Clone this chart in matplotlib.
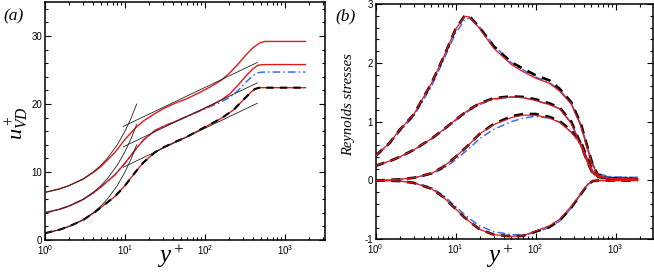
import numpy as np
import matplotlib
matplotlib.use("Agg")
import matplotlib.pyplot as plt
from matplotlib.ticker import FuncFormatter, MultipleLocator, LogLocator, NullFormatter

plt.rcParams['mathtext.fontset'] = 'custom'
plt.rcParams['mathtext.rm'] = 'Liberation Serif'
plt.rcParams['mathtext.it'] = 'Liberation Serif:italic'
plt.rcParams['mathtext.sf'] = 'Liberation Sans'
plt.rcParams['font.family'] = ['Liberation Sans', 'DejaVu Sans']

# ---------------- panel (a) data ----------------
yp_bot = [1, 1.5, 2, 3, 4.2, 5, 7.5, 10, 13.3, 17, 23.7, 30, 42, 60, 86, 120, 160, 226, 301, 365, 420, 480, 1800]
u_bot = [1.0, 1.5, 2.0, 2.95, 4.1, 4.8, 6.4, 8.0, 9.9, 11.4, 12.9, 13.6, 14.4, 15.2, 16.2, 17.1, 17.9, 19.1, 20.6, 21.6, 22.2, 22.4, 22.4]

yp_mid = [1, 1.5, 2, 3, 4.2, 5, 7.5, 10, 13.3, 17, 23.7, 30, 42, 60, 86, 120, 160, 205, 260, 330, 400, 460, 540, 1800]
u_mid = [4.0, 4.5, 5.0, 5.95, 7.1, 7.8, 9.6, 11.3, 13.2, 14.7, 16.1, 16.7, 17.4, 18.2, 19.0, 19.8, 20.6, 21.5, 22.8, 24.2, 25.2, 25.7, 25.8, 25.8]
u_mid_blue = [4.0, 4.5, 5.0, 5.95, 7.1, 7.8, 9.6, 11.3, 13.2, 14.7, 16.1, 16.7, 17.4, 18.2, 19.0, 19.7, 20.3, 21.0, 22.0, 23.3, 24.2, 24.6, 24.7, 24.7]

yp_top = [1, 1.5, 2, 3, 4.2, 5, 7.5, 10, 13.3, 17, 23.7, 30, 42, 60, 86, 120, 160, 205, 260, 330, 400, 487, 560, 1800]
u_top = [7.0, 7.5, 8.0, 8.95, 10.1, 10.8, 12.9, 14.8, 16.4, 17.5, 18.6, 19.3, 20.1, 20.8, 21.7, 22.6, 23.5, 24.6, 25.9, 27.3, 28.3, 29.0, 29.2, 29.2]

# thin reference lines (viscous sublayer and log law)
yp_visc = [1, 1.5, 2, 3, 4, 5, 6, 8, 10, 12, 14]
u_visc_bot = [1, 1.5, 2, 3, 4, 5, 6, 8, 10, 12, 14]
u_visc_mid = [4, 4.5, 5, 6, 7, 8, 9, 11, 13, 15, 17]
u_visc_top = [7, 7.5, 8, 9, 10, 11, 12, 14, 16, 18, 20]
yp_log = [9.5, 450]
u_log_bot = [10.7, 20.1]
u_log_mid = [13.7, 23.1]
u_log_top = [16.7, 26.1]

# ---------------- panel (b) data ----------------
yp_rs = [1, 1.5, 2, 3, 5, 7, 10, 13, 15, 20, 30, 50, 70, 100, 150, 200, 280, 370, 450, 520, 600, 800, 1000, 1900]
uu_red = [0.42, 0.64, 0.86, 1.12, 1.65, 2.08, 2.57, 2.79, 2.78, 2.58, 2.25, 1.97, 1.85, 1.74, 1.65, 1.52, 1.30, 0.92, 0.52, 0.25, 0.10, 0.04, 0.03, 0.02]
uu_blk = [0.42, 0.64, 0.86, 1.12, 1.65, 2.08, 2.57, 2.80, 2.79, 2.60, 2.28, 2.01, 1.90, 1.79, 1.70, 1.56, 1.33, 0.96, 0.55, 0.26, 0.10, 0.04, 0.03, 0.02]
uu_blu = [0.40, 0.62, 0.83, 1.09, 1.60, 2.03, 2.50, 2.73, 2.76, 2.61, 2.30, 2.00, 1.88, 1.76, 1.66, 1.54, 1.31, 0.95, 0.55, 0.28, 0.12, 0.07, 0.06, 0.05]

ww_red = [0.25, 0.33, 0.40, 0.52, 0.71, 0.86, 1.03, 1.15, 1.21, 1.31, 1.39, 1.42, 1.41, 1.36, 1.29, 1.22, 0.97, 0.58, 0.29, 0.12, 0.06, 0.04, 0.03, 0.02]
ww_blk = [0.25, 0.33, 0.40, 0.52, 0.71, 0.86, 1.03, 1.15, 1.21, 1.31, 1.40, 1.43, 1.42, 1.38, 1.31, 1.24, 1.00, 0.61, 0.30, 0.12, 0.06, 0.04, 0.03, 0.02]
ww_blu = [0.24, 0.32, 0.39, 0.51, 0.70, 0.85, 1.02, 1.13, 1.19, 1.29, 1.38, 1.42, 1.41, 1.36, 1.29, 1.22, 0.98, 0.60, 0.31, 0.14, 0.08, 0.06, 0.05, 0.05]

vv_red = [0.0, 0.01, 0.02, 0.045, 0.12, 0.23, 0.40, 0.54, 0.62, 0.79, 0.95, 1.07, 1.11, 1.11, 1.06, 0.99, 0.82, 0.62, 0.35, 0.15, 0.07, 0.04, 0.03, 0.02]
vv_blk = [0.0, 0.01, 0.02, 0.045, 0.12, 0.23, 0.40, 0.54, 0.62, 0.79, 0.96, 1.09, 1.13, 1.13, 1.08, 1.01, 0.85, 0.65, 0.37, 0.15, 0.07, 0.04, 0.03, 0.02]
vv_blu = [0.0, 0.01, 0.02, 0.04, 0.11, 0.20, 0.35, 0.48, 0.55, 0.71, 0.87, 1.00, 1.06, 1.09, 1.06, 0.99, 0.82, 0.60, 0.34, 0.15, 0.08, 0.06, 0.05, 0.05]

uv_red = [0.0, -0.005, -0.01, -0.04, -0.14, -0.28, -0.48, -0.63, -0.70, -0.83, -0.92, -0.95, -0.94, -0.86, -0.77, -0.66, -0.44, -0.22, -0.06, -0.01, 0.0, 0.0, 0.0, 0.0]
uv_blk = [0.0, -0.005, -0.01, -0.04, -0.14, -0.28, -0.48, -0.63, -0.70, -0.83, -0.92, -0.95, -0.94, -0.87, -0.79, -0.68, -0.46, -0.23, -0.07, -0.01, 0.0, 0.0, 0.0, 0.0]
uv_blu = [0.0, -0.005, -0.01, -0.035, -0.12, -0.25, -0.44, -0.58, -0.65, -0.77, -0.87, -0.92, -0.93, -0.88, -0.80, -0.69, -0.47, -0.23, -0.07, -0.02, 0.0, 0.0, 0.0, 0.0]

RED = '#e01818'
BLUE = '#3a6cf0'
BLK = 'black'

W, H = 654, 273
fig = plt.figure(figsize=(W / 100, H / 100), dpi=100)

def frac(x0, y0, x1, y1):
    return [x0 / W, 1 - y1 / H, (x1 - x0) / W, (y1 - y0) / H]

axa = fig.add_axes(frac(45, 2, 325, 240))
axb = fig.add_axes(frac(375.5, 4, 652.7, 239.3))

def style(ax, ymaj, ymin):
    ax.set_xscale('log')
    ax.xaxis.set_major_locator(LogLocator(base=10, numticks=10))
    ax.xaxis.set_minor_locator(LogLocator(base=10, subs=np.arange(2, 10), numticks=20))
    ax.xaxis.set_minor_formatter(NullFormatter())
    ax.xaxis.set_major_formatter(FuncFormatter(lambda v, p: r'$\mathsf{10^{%d}}$' % int(round(np.log10(v)))))
    ax.yaxis.set_major_locator(MultipleLocator(ymaj))
    ax.yaxis.set_minor_locator(MultipleLocator(ymin))
    ax.yaxis.set_major_formatter(FuncFormatter(lambda v, p: '%d' % int(round(v))))
    ax.tick_params(which='both', direction='in', top=True, right=True, labelsize=7, pad=2, width=0.8)
    ax.tick_params(which='major', length=4)
    ax.tick_params(which='minor', length=2.2)
    for s in ax.spines.values():
        s.set_linewidth(1.1)

# ---- panel (a)
style(axa, 10, 2)
axa.set_xlim(1, 10 ** 3.5)
axa.set_ylim(0, 35)
thin = dict(color='#222222', lw=0.6)
for u in (u_visc_bot, u_visc_mid, u_visc_top):
    axa.plot(yp_visc, u, **thin, zorder=4)
for u in (u_log_bot, u_log_mid, u_log_top):
    axa.plot(yp_log, u, **thin, zorder=4)
axa.plot(yp_top, u_top, color=RED, lw=1.0, zorder=3)
axa.plot(yp_mid, u_mid_blue, color=BLUE, lw=1.1, dashes=(5, 2, 1, 2), zorder=2)
axa.plot(yp_mid, u_mid, color=RED, lw=1.0, zorder=3)
axa.plot(yp_bot, u_bot, color=RED, lw=1.0, zorder=3)
axa.plot(yp_bot, u_bot, color=BLK, lw=1.5, dashes=(3.5, 3), zorder=3.5)

# ---- panel (b)
style(axb, 1, 0.2)
axb.set_xlim(1, 10 ** 3.465)
axb.set_ylim(-1, 3)
for blu, blk, red in ((uu_blu, uu_blk, uu_red), (ww_blu, ww_blk, ww_red),
                      (vv_blu, vv_blk, vv_red), (uv_blu, uv_blk, uv_red)):
    axb.plot(yp_rs, blu, color=BLUE, lw=1.1, dashes=(5, 2, 1, 2), zorder=2)
    axb.plot(yp_rs, blk, color=BLK, lw=1.9, dashes=(3.5, 2.5), zorder=3)
    axb.plot(yp_rs, red, color=RED, lw=0.9, zorder=4)

# labels
fig.text(171 / W, 1 - 256 / H, r'$y^+$', fontsize=18, ha='center', va='center')
fig.text(500 / W, 1 - 256 / H, r'$y^+$', fontsize=18, ha='center', va='center')
fig.text(17 / W, 1 - 123 / H, r'$u^+_{VD}$', fontsize=16, ha='center', va='center', rotation=90)
fig.text(349 / W, 1 - 105 / H, 'Reynolds stresses', fontsize=10.5, ha='center', va='center',
         rotation=90, family='Liberation Serif', style='italic')
fig.text(14 / W, 1 - 16 / H, '(a)', fontsize=12.5, ha='center', va='center',
         family='Liberation Serif', style='italic')
fig.text(346 / W, 1 - 16 / H, '(b)', fontsize=12.5, ha='center', va='center',
         family='Liberation Serif', style='italic')

fig.savefig('out.png', dpi=100)
